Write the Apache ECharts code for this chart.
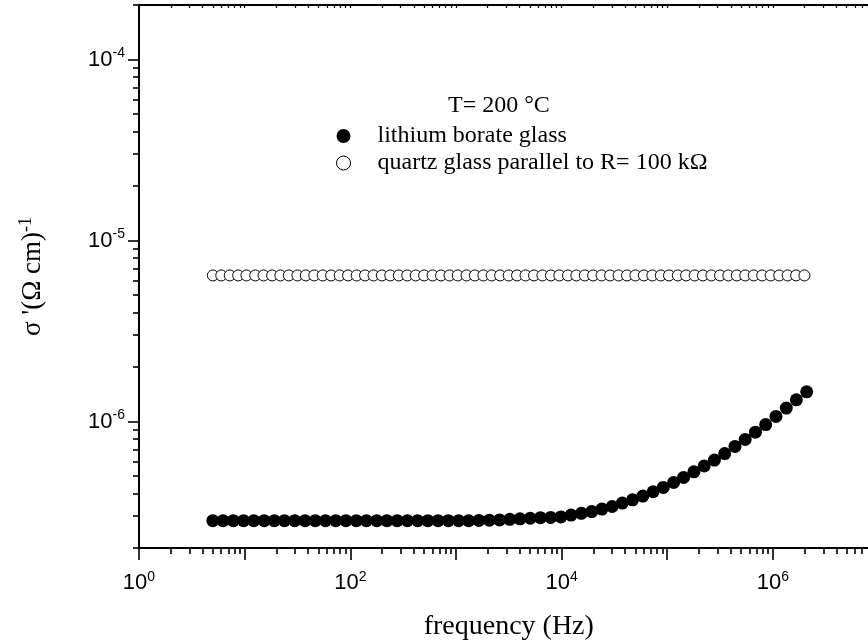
<!DOCTYPE html>
<html>
<head>
<meta charset="utf-8">
<script src="https://cdn.jsdelivr.net/npm/echarts@6/dist/echarts.min.js"></script>
<style>
  html, body { margin: 0; padding: 0; background: #fff; }
  #chart { width: 868px; height: 642px; }
</style>
</head>
<body>
<div id="chart"></div>
<script>
// Lithium borate glass, T = 200 °C: real part of conductivity vs frequency
const FREQ_LIBO = [5, 6.25, 7.81, 9.77, 12.2, 15.3, 19.1, 23.8, 29.8, 37.3, 46.6, 58.2, 72.8, 90.9,
  114, 142, 178, 222, 278, 347, 434, 542, 678, 847, 1060, 1320, 1650, 2070, 2590, 3230, 4040,
  5050, 6310, 7890, 9860, 12300, 15400, 19300, 24100, 30100, 37600, 47000, 58800, 73500, 91800,
  115000, 143000, 179000, 224000, 280000, 350000, 438000, 547000, 684000, 855000, 1070000,
  1340000, 1670000, 2090000];
const SIGMA_LIBO = [2.83e-7, 2.83e-7, 2.83e-7, 2.83e-7, 2.83e-7, 2.83e-7, 2.83e-7, 2.83e-7, 2.83e-7,
  2.83e-7, 2.83e-7, 2.83e-7, 2.83e-7, 2.83e-7, 2.83e-7, 2.83e-7, 2.83e-7, 2.83e-7, 2.83e-7, 2.83e-7,
  2.83e-7, 2.83e-7, 2.83e-7, 2.83e-7, 2.83e-7, 2.83e-7, 2.84e-7, 2.85e-7, 2.86e-7, 2.88e-7, 2.90e-7,
  2.92e-7, 2.94e-7, 2.95e-7, 2.97e-7, 3.04e-7, 3.11e-7, 3.18e-7, 3.28e-7, 3.39e-7, 3.54e-7, 3.69e-7,
  3.87e-7, 4.09e-7, 4.32e-7, 4.60e-7, 4.91e-7, 5.27e-7, 5.68e-7, 6.12e-7, 6.65e-7, 7.28e-7, 7.96e-7,
  8.73e-7, 9.62e-7, 1.067e-6, 1.186e-6, 1.318e-6, 1.459e-6];

// Quartz glass with a 100 kOhm resistor in parallel
const FREQ_QUARTZ = [5.00, 6.01, 7.23, 8.69, 10.4, 12.6, 15.1, 18.2, 21.8, 26.2, 31.6, 37.9, 45.6,
  54.8, 65.9, 79.3, 95.3, 115, 138, 166, 199, 239, 288, 346, 416, 500, 601, 723, 869, 1040, 1260,
  1510, 1820, 2180, 2620, 3160, 3790, 4560, 5480, 6590, 7930, 9530, 11500, 13800, 16600, 19900,
  23900, 28800, 34600, 41600, 50000, 60100, 72300, 86900, 104000, 126000, 151000, 182000, 218000,
  262000, 316000, 379000, 456000, 548000, 659000, 793000, 953000, 1150000, 1380000, 1660000, 1990000];
const SIGMA_QUARTZ = [6.41e-6, 6.41e-6, 6.41e-6, 6.41e-6, 6.41e-6, 6.41e-6, 6.41e-6, 6.41e-6, 6.41e-6,
  6.41e-6, 6.41e-6, 6.41e-6, 6.41e-6, 6.41e-6, 6.41e-6, 6.41e-6, 6.41e-6, 6.41e-6, 6.41e-6, 6.41e-6,
  6.41e-6, 6.41e-6, 6.41e-6, 6.41e-6, 6.41e-6, 6.41e-6, 6.41e-6, 6.41e-6, 6.41e-6, 6.41e-6, 6.41e-6,
  6.41e-6, 6.41e-6, 6.41e-6, 6.41e-6, 6.41e-6, 6.41e-6, 6.41e-6, 6.41e-6, 6.41e-6, 6.41e-6, 6.41e-6,
  6.41e-6, 6.41e-6, 6.41e-6, 6.41e-6, 6.41e-6, 6.41e-6, 6.41e-6, 6.41e-6, 6.41e-6, 6.41e-6, 6.41e-6,
  6.41e-6, 6.41e-6, 6.41e-6, 6.41e-6, 6.41e-6, 6.41e-6, 6.41e-6, 6.41e-6, 6.41e-6, 6.41e-6, 6.41e-6,
  6.41e-6, 6.41e-6, 6.41e-6, 6.41e-6, 6.41e-6, 6.41e-6, 6.41e-6];

const SERIES_NAMES = ['lithium borate glass', 'quartz glass parallel to R= 100 k\u03A9'];
const TEMP_LABEL = 'T= 200 \u00B0C';

// Axis decades (exponents of 10)
const X_DECADES = [0, 1, 2, 3, 4, 5, 6, 7];
const X_LABEL_DECADES = [0, 2, 4, 6];
const Y_DECADES = [-6, -5, -4];
const Y_LABEL_DECADES = [-6, -5, -4];

const lg = Math.log10;
const X_MIN = 0, X_MAX = 7;
const Y_MIN = -7 + lg(2), Y_MAX = -4 + lg(2);

function minorTicks(fromDecade, toDecade, lo, hi) {
  const out = [];
  for (let d = fromDecade; d <= toDecade; d++) {
    for (let m = 2; m <= 9; m++) {
      const v = d + lg(m);
      if (v >= lo - 1e-9 && v <= hi + 1e-9) out.push(v);
    }
  }
  return out;
}
const X_MINOR = minorTicks(0, 6, X_MIN, X_MAX);
const Y_MINOR = minorTicks(-7, -4, Y_MIN, Y_MAX);

const powLabel = v => '{b|10}{s|' + Math.round(v) + '}';
const labelRich = {
  b: { fontFamily: 'Liberation Sans', fontSize: 22, color: '#000', lineHeight: 26 },
  s: { fontFamily: 'Liberation Sans', fontSize: 14, color: '#000', lineHeight: 14, verticalAlign: 'top' }
};
const black = '#000';

const chart = echarts.init(document.getElementById('chart'), null, { renderer: 'canvas' });
chart.setOption({
  animation: false,
  backgroundColor: '#fff',
  title: {
    text: TEMP_LABEL, left: 448, top: 94, padding: 0,
    textStyle: { fontFamily: 'Liberation Serif', fontSize: 24, fontWeight: 'normal', color: black }
  },
  legend: {
    orient: 'vertical', left: 336, top: 124, padding: 0,
    itemWidth: 58, itemHeight: 14, itemGap: 3, selectedMode: false,
    textStyle: { fontFamily: 'Liberation Serif', fontSize: 24, color: black, lineHeight: 24 },
    data: [
      { name: SERIES_NAMES[0] },
      { name: SERIES_NAMES[1], itemStyle: { borderWidth: 1 } }
    ]
  },
  // the frame runs to 10^7 Hz, just past the right edge of the canvas
  grid: { left: 139, top: 5, bottom: 94, width: 739.5, outerBoundsMode: 'none' },
  xAxis: [
    {
      type: 'value', position: 'bottom', min: X_MIN, max: X_MAX,
      axisLine: { show: true, onZero: false, lineStyle: { color: black, width: 2 } },
      axisTick: { show: true, customValues: X_DECADES, length: 12, lineStyle: { color: black, width: 1.6 } },
      axisLabel: { show: true, customValues: X_LABEL_DECADES, margin: 22, formatter: powLabel, rich: labelRich },
      splitLine: { show: false },
      name: 'frequency (Hz)', nameLocation: 'middle', nameGap: 65,
      nameTextStyle: { fontFamily: 'Liberation Serif', fontSize: 28, color: black }
    },
    {
      type: 'value', position: 'bottom', min: X_MIN, max: X_MAX,
      axisLine: { show: false, onZero: false },
      axisTick: { show: true, customValues: X_MINOR, length: 6, lineStyle: { color: black, width: 1.6 } },
      axisLabel: { show: false }, splitLine: { show: false }
    },
    {
      type: 'value', position: 'top', min: X_MIN, max: X_MAX,
      axisLine: { show: true, onZero: false, lineStyle: { color: black, width: 2 } },
      axisTick: { show: true, inside: true, customValues: X_DECADES.concat(X_MINOR), length: 3, lineStyle: { color: black, width: 1.2 } },
      axisLabel: { show: false }, splitLine: { show: false }
    }
  ],
  yAxis: [
    {
      type: 'value', position: 'left', min: Y_MIN, max: Y_MAX,
      axisLine: { show: true, onZero: false, lineStyle: { color: black, width: 2 } },
      axisTick: { show: true, customValues: Y_DECADES, length: 11, lineStyle: { color: black, width: 1.6 } },
      axisLabel: { show: true, customValues: Y_LABEL_DECADES, margin: 14, formatter: powLabel, rich: labelRich },
      splitLine: { show: false },
      name: '{a|\u03C3 \'(\u03A9 cm)}{s|-1}', nameLocation: 'middle', nameGap: 90, nameRotate: 90,
      nameTextStyle: {
        rich: {
          a: { fontFamily: 'Liberation Serif', fontSize: 27, color: black, lineHeight: 32 },
          s: { fontFamily: 'Liberation Serif', fontSize: 18, color: black, lineHeight: 18, verticalAlign: 'top' }
        }
      }
    },
    {
      type: 'value', position: 'left', min: Y_MIN, max: Y_MAX,
      axisLine: { show: false, onZero: false },
      axisTick: { show: true, customValues: Y_MINOR, length: 6, lineStyle: { color: black, width: 1.6 } },
      axisLabel: { show: false }, splitLine: { show: false }
    }
  ],
  series: [
    {
      name: SERIES_NAMES[0], type: 'scatter', xAxisIndex: 0, yAxisIndex: 0,
      symbol: 'circle', symbolSize: 13,
      itemStyle: { color: black, opacity: 1 },
      emphasis: { disabled: true },
      data: FREQ_LIBO.map((f, i) => [lg(f), lg(SIGMA_LIBO[i])])
    },
    {
      name: SERIES_NAMES[1], type: 'scatter', xAxisIndex: 0, yAxisIndex: 0,
      symbol: 'circle', symbolSize: 11,
      itemStyle: { color: '#fff', borderColor: black, borderWidth: 1, opacity: 1 },
      emphasis: { disabled: true },
      data: FREQ_QUARTZ.map((f, i) => [lg(f), lg(SIGMA_QUARTZ[i])])
    }
  ]
});
</script>
</body>
</html>
